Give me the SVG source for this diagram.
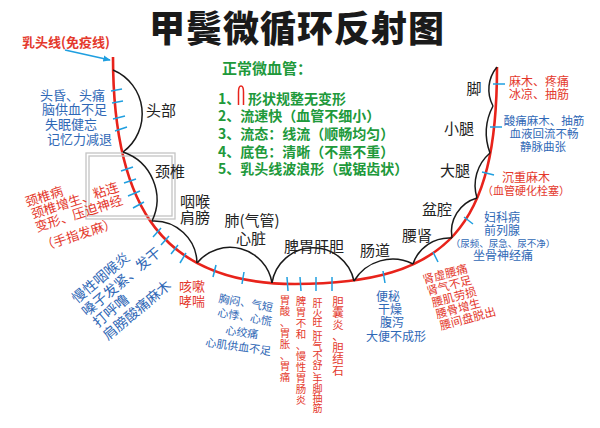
<svg xmlns="http://www.w3.org/2000/svg" width="600" height="428" viewBox="0 0 600 428">
<defs>
<style>
text{font-family:"Noto Sans CJK SC","Noto Sans",sans-serif}
.title{font-size:36px;font-weight:900;fill:#1a1a1a;text-anchor:middle;letter-spacing:1px}
.lbl{font-size:15px;fill:#222;text-anchor:middle}
.blue{fill:#2f68b6}
.red{fill:#e4382c}
.green{fill:#20993a;font-weight:bold}
.c{text-anchor:middle}
.arc{fill:none;stroke:#1a1a1a;stroke-width:1.5}
.tick{stroke:#1f9fe0;stroke-width:1.5;fill:none}
.redline{fill:none;stroke:#e8231b;stroke-width:2.6}
</style>
<marker id="arr" viewBox="0 0 10 10" refX="9" refY="5" markerWidth="5" markerHeight="5" orient="auto">
<path d="M0,1 L10,5 L0,9 z" fill="#1f9fe0"/>
</marker>
</defs>
<rect width="600" height="428" fill="#ffffff"/>

<text class="title" x="297" y="42">甲鬓微循环反射图</text>

<g id="legend">
<text class="green" x="222" y="74" font-size="15">正常微血管：</text>
<g class="green" font-size="14">
<text x="218" y="104">1、</text>
<path d="M238.5,105 V92 Q238.5,86 241,86 Q243.5,86 243.5,92 V105" fill="none" stroke="#e8231b" stroke-width="1.5"/>
<text x="248" y="104">形状规整无变形</text>
<text x="218" y="121">2、流速快（血管不细小）</text>
<text x="218" y="139">3、流态：线流（顺畅均匀）</text>
<text x="218" y="157">4、底色：清晰（不黑不重）</text>
<text x="218" y="174">5、乳头线波浪形（或锯齿状）</text>
</g>
</g>

<g id="connectors">
<path class="redline" d="M113,57 C113,210 165,284 295,284 C450,284 497,225 497,67"/>
<line x1="65" y1="50" x2="110" y2="60" stroke="#1f9fe0" stroke-width="1.5" marker-end="url(#arr)"/>
</g>

<g id="node-immune">
<text class="red" x="22" y="47" font-size="13" font-weight="bold">乳头线(免疫线)</text>
</g>

<g id="node-head">
<path class="arc" d="M113,70 A47.5,47.5 0 0 1 123,152"/>
<text class="lbl" x="161" y="116">头部</text>
<g class="tick">
<line x1="111" y1="91" x2="122" y2="89"/>
<line x1="112" y1="103" x2="123" y2="101"/>
<line x1="113" y1="119" x2="125" y2="116"/>
<line x1="115" y1="131" x2="127" y2="127"/>
</g>
<g class="blue" font-size="13">
<text x="40" y="100">头昏、头痛</text>
<text x="42" y="114">脑供血不足</text>
<text x="45" y="129">失眠健忘</text>
<text x="47" y="144">记忆力减退</text>
</g>
</g>

<g id="node-neck">
<rect x="86" y="153" width="89" height="66" fill="none" stroke="#c4c4c4" stroke-width="1.3"/>
<rect x="89" y="156" width="83" height="60" fill="none" stroke="#c4c4c4" stroke-width="1.3"/>
<path class="arc" d="M123,152 A50,50 0 0 1 152,221"/>
<text class="lbl" x="170" y="177">颈椎</text>
<g class="tick">
<line x1="121" y1="171" x2="133" y2="167"/>
<line x1="124" y1="183" x2="136" y2="179"/>
<line x1="128" y1="196" x2="140" y2="191"/>
<line x1="133" y1="208" x2="144" y2="202"/>
</g>
<g class="red" font-size="13">
<text transform="translate(27,207) rotate(-18)">颈椎病</text>
<text transform="translate(33,219) rotate(-18)">颈椎增生、粘连</text>
<text transform="translate(37,232) rotate(-18)">变形、压迫神经</text>
<text transform="translate(43,251) rotate(-18)">（手指发麻）</text>
</g>
</g>

<g id="node-throat">
<path class="arc" d="M152,221 A43,43 0 0 1 197,263"/>
<text class="lbl" x="195" y="207">咽喉</text>
<text class="lbl" x="195" y="223">肩膀</text>
<g class="tick">
<line x1="153" y1="237" x2="161" y2="228"/>
<line x1="161" y1="245" x2="169" y2="236"/>
<line x1="171" y1="254" x2="178" y2="245"/>
<line x1="180" y1="263" x2="186" y2="253"/>
</g>
<g class="blue" font-size="14">
<text transform="translate(77,304) rotate(-40)">慢性咽喉炎</text>
<text transform="translate(87,317) rotate(-40)">嗓子发紧、发干</text>
<text transform="translate(98,328) rotate(-40)">打呼噜</text>
<text transform="translate(108,341) rotate(-40)">肩膀酸痛麻木</text>
</g>
</g>

<g id="node-heart">
<path class="arc" d="M197,263 A42.6,42.6 0 0 1 272,283"/>
<text class="lbl" x="252" y="226" font-size="14">肺(气管)</text>
<text class="lbl" x="251" y="244">心脏</text>
<g class="tick">
<line x1="213" y1="277" x2="216" y2="265"/>
<line x1="242" y1="284" x2="244" y2="272"/>
</g>
<g class="red c" font-size="13">
<text x="192" y="291">咳嗽</text>
<text x="192" y="306">哮喘</text>
</g>
<g class="blue" font-size="11">
<text transform="translate(218,302) rotate(10)">胸闷、气短</text>
<text transform="translate(217,316) rotate(10)">心悸、心慌</text>
<text transform="translate(225,334) rotate(8)">心绞痛</text>
<text transform="translate(205,346) rotate(8)">心肌供血不足</text>
</g>
</g>

<g id="node-digest">
<path class="arc" d="M272,283 A41.7,41.7 0 0 1 354,281"/>
<text class="lbl" x="314" y="252">脾胃肝胆</text>
<g class="tick">
<line x1="287" y1="277" x2="288" y2="291"/>
<line x1="300" y1="277" x2="301" y2="291"/>
<line x1="316" y1="277" x2="316" y2="291"/>
<line x1="332" y1="277" x2="332" y2="291"/>
</g>
<g class="red c">
<text font-size="10.5" x="285 285 285 285 285 285 285 285" y="304 315 326 337 348 359 370 381">胃酸、胃胀、胃痛</text>
<text font-size="10.5" x="301 301 301 301 301 301 301 301 301 301" y="305 316 327 338 349 360 371 382 393 404">脾胃不和、慢性胃肠炎</text>
<text font-size="10" x="317.5 317.5 317.5 317.5 317.5 317.5 317.5 317.5 317.5 317.5 317.5 317.5 317.5" y="307 316.5 326 332 340 349.5 359 368.5 374 383 392.5 402 411.5">肝火旺、肝气不舒、手脚抽筋</text>
<text font-size="11.5" x="338 338 338 338 338 338 338" y="305.5 317 328.5 340 351.5 363 374.5">胆囊炎、胆结石</text>
</g>
</g>

<g id="node-intestine">
<path class="arc" d="M354,281 A45,45 0 0 1 413,264"/>
<text class="lbl" x="375" y="256">肠道</text>
<line class="tick" x1="383" y1="271" x2="385" y2="283"/>
<g class="blue c" font-size="12">
<text x="388" y="301">便秘</text>
<text x="390" y="314">干燥</text>
<text x="392" y="327">腹泻</text>
<text x="396" y="341">大便不成形</text>
</g>
</g>

<g id="node-kidney">
<path class="arc" d="M413,264 A38,38 0 0 1 452,238"/>
<text class="lbl" x="417" y="241">腰肾</text>
<line class="tick" x1="433" y1="252" x2="438" y2="262"/>
<g class="red" font-size="11.5">
<text transform="translate(424,284) rotate(-15)">肾虚腰痛</text>
<text transform="translate(428,295.5) rotate(-15)">肾气不足</text>
<text transform="translate(433,307) rotate(-15)">腰肌劳损</text>
<text transform="translate(437,318.5) rotate(-15)">腰骨增生</text>
<text transform="translate(441,330) rotate(-15)">腰间盘脱出</text>
</g>
</g>

<g id="node-pelvis">
<path class="arc" d="M452,238 A35,35 0 0 1 477,198"/>
<text class="lbl" x="437" y="215">盆腔</text>
<line class="tick" x1="464" y1="217" x2="473" y2="224"/>
<g class="blue c">
<text x="502" y="222" font-size="12">妇科病</text>
<text x="502" y="235" font-size="12">前列腺</text>
<text x="503" y="247" font-size="9.5">（尿频、尿急、尿不净）</text>
<text x="503" y="260" font-size="12">坐骨神经痛</text>
</g>
</g>

<g id="node-thigh">
<path class="arc" d="M477,198 A42.6,42.6 0 0 1 490,153"/>
<text class="lbl" x="455" y="176">大腿</text>
<line class="tick" x1="482" y1="172" x2="494" y2="175"/>
<g class="red c">
<text x="526" y="182" font-size="12">沉重麻木</text>
<text x="526" y="195" font-size="11">（血管硬化栓塞）</text>
</g>
</g>

<g id="node-calf">
<path class="arc" d="M490,153 A58,58 0 0 1 493,106"/>
<text class="lbl" x="459" y="134">小腿</text>
<line class="tick" x1="490" y1="127" x2="502" y2="127"/>
<g class="blue c" font-size="11.5">
<text x="544" y="125">酸痛麻木、抽筋</text>
<text x="544" y="138">血液回流不畅</text>
<text x="543" y="151">静脉曲张</text>
</g>
</g>

<g id="node-foot">
<path class="arc" d="M493,106 A35,35 0 0 1 497,67"/>
<text class="lbl" x="474" y="94">脚</text>
<line class="tick" x1="493" y1="84" x2="505" y2="84"/>
<g class="red c" font-size="12">
<text x="539" y="86">麻木、疼痛</text>
<text x="539" y="99">冰凉、抽筋</text>
</g>
</g>
</svg>
